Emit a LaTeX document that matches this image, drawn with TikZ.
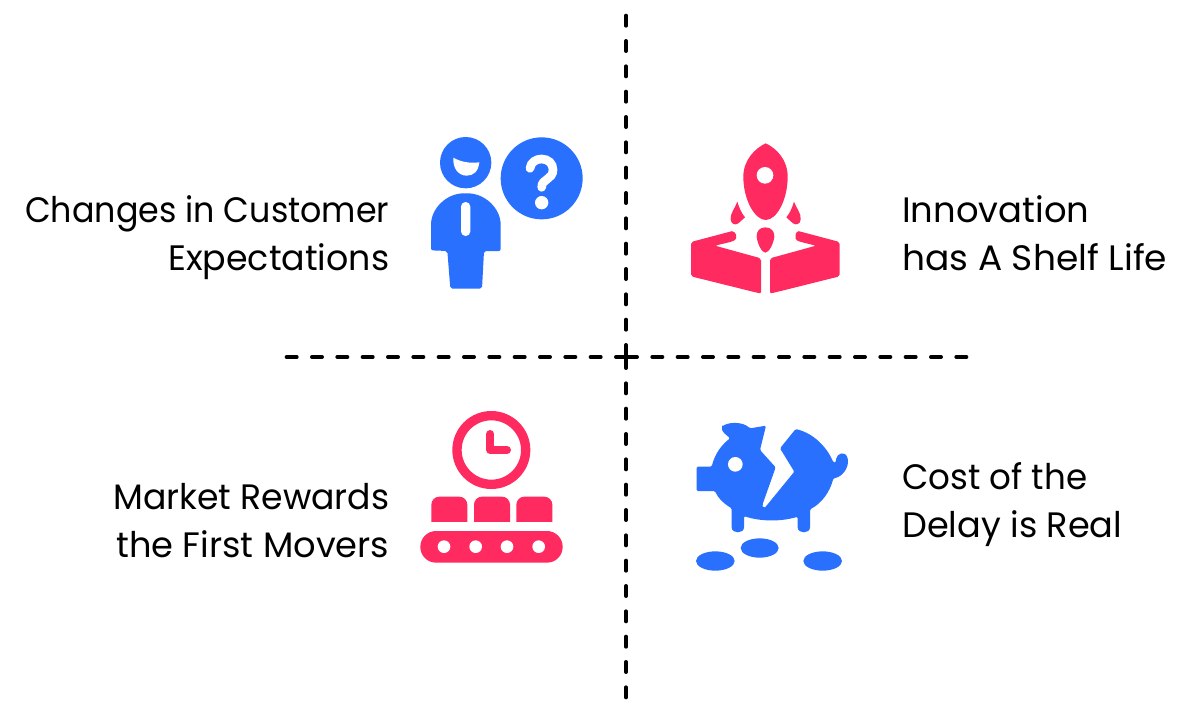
\documentclass[tikz,border=0pt]{standalone}
\usepackage{fontspec}
\usepackage{graphicx}
\setmainfont{Poppins}
\definecolor{iblue}{HTML}{2970FF}
\definecolor{ipink}{HTML}{FF2A5F}
\newcommand{\fitline}[2]{\rule[-9pt]{0pt}{36pt}\resizebox{#1}{\height}{#2}}
\tikzset{
  axis/.style={line width=3pt,line cap=round,black,dash pattern=on 7.5pt off 11.5pt},
  lab/.style={font=\fontsize{26.5pt}{36pt}\selectfont,inner sep=0pt,text=black},
  icon/.style={x=0.25pt,y=-0.25pt},
  rj/.style={rounded corners=1.5pt}
}
\begin{document}
\begin{tikzpicture}[x=0.75pt,y=-0.75pt]
\useasboundingbox (0,0) rectangle (1200,715);
\fill[white] (0,0) rectangle (1200,715);
\coordinate (cv1) at (626,355);
\coordinate (cv2) at (626,358);
\coordinate (ch1) at (626,357);
\coordinate (ch2) at (627,357);
\coordinate (top) at (626,14);
\coordinate (bot) at (626,699);
\coordinate (lft) at (284,357);
\coordinate (rgt) at (970,357);
\draw[axis] (cv1) -- (top);
\draw[axis] (cv2) -- (bot);
\draw[axis] (ch1) -- (lft);
\draw[axis] (ch2) -- (rgt);
\node[lab,align=right,anchor=east] (a) at (389.5,234.5) {\fitline{273pt}{Changes in Customer}\\\fitline{165.75pt}{Expectations}};
\node[lab,align=left,anchor=west] (b) at (902,234.5) {\fitline{140.25pt}{Innovation}\\\fitline{198.75pt}{has A Shelf Life}};
\node[lab,align=right,anchor=east] (c) at (389.5,521.5) {\fitline{207pt}{Market Rewards}\\\fitline{204.75pt}{the First Movers}};
\node[lab,align=left,anchor=west] (d) at (902,501) {\fitline{138.75pt}{Cost of the}\\\fitline{165pt}{Delay is Real}};
% person
\begin{scope}[shift={(420,125)},icon]
\fill[iblue] (137,113) circle (77);
\fill[white] (100,98) .. controls (125,112) and (150,115) .. (178,112) .. controls (175,140) and (160,152) .. (140,152) .. controls (115,152) and (98,130) .. (100,98) -- cycle;
\fill[iblue,rj] (33,376) -- (33,305) .. controls (33,250) and (80,205) .. (137,205) .. controls (195,205) and (242,250) .. (242,305) -- (242,378) -- (192,378) -- (186,491) -- (91,491) -- (82,378) -- cycle;
\fill[white,rounded corners=3.4pt] (123,231) rectangle (151,333);
\fill[iblue] (365,160) circle (123);
\draw[white,line width=6.5pt,line cap=round] (330,130) .. controls (332,112) and (348,102) .. (365,102) .. controls (385,102) and (399,116) .. (399,134) .. controls (399,165) and (365,160) .. (365,187);
\fill[white] (365,233) circle (20);
\end{scope}
% rocket
\begin{scope}[shift={(680,130)},icon]
\fill[ipink] (257,40) .. controls (225,55) and (190,90) .. (190,140) .. controls (190,210) and (225,270) .. (257,270) .. controls (290,270) and (323,210) .. (323,140) .. controls (323,90) and (290,55) .. (257,40) -- cycle;
\fill[white] (255,136) circle (25);
\fill[ipink] (172,215) .. controls (165,235) and (150,250) .. (152,268) .. controls (153,282) and (165,287) .. (175,280) -- (195,262) .. controls (185,250) and (178,235) .. (172,215) -- cycle;
\fill[ipink] (342,215) .. controls (349,235) and (364,250) .. (362,268) .. controls (361,282) and (349,287) .. (339,280) -- (319,262) .. controls (329,250) and (336,235) .. (342,215) -- cycle;
\fill[ipink] (256,292) .. controls (238,292) and (229,305) .. (230,320) .. controls (232,340) and (245,368) .. (256,368) .. controls (267,368) and (281,340) .. (283,320) .. controls (284,305) and (274,292) .. (256,292) -- cycle;
\fill[ipink,rj] (33,336) -- (150,305) .. controls (162,302) and (168,312) .. (168,320) .. controls (168,327) and (162,332) .. (155,335) -- (105,347) -- (243,385) -- (243,491) -- (33,439) -- cycle;
\fill[ipink,rj] (479,336) -- (362,305) .. controls (350,302) and (347,312) .. (347,320) .. controls (347,327) and (352,332) .. (359,335) -- (408,347) -- (270,385) -- (270,491) -- (479,439) -- cycle;
\end{scope}
% clock and belt
\begin{scope}[shift={(410,400)},icon]
\draw[ipink,line width=7pt] (244,150) circle (103);
\draw[ipink,line width=6pt,line cap=round,line join=round] (241,102) -- (241,150) -- (291,150);
\fill[ipink,rounded corners=6pt] (64,400) -- (64,290) -- (172,290) -- (172,400) -- cycle;
\fill[ipink,rounded corners=6pt] (192,400) -- (192,290) -- (300,290) -- (300,400) -- cycle;
\fill[ipink,rounded corners=6pt] (319,400) -- (319,290) -- (427,290) -- (427,400) -- cycle;
\fill[white] (50,365) rectangle (440,393);
\fill[ipink,rounded corners=11.8pt] (31,393) rectangle (458,488);
\fill[white] (102,440) circle (19) (197,440) circle (19) (291,440) circle (19) (386,440) circle (19);
\end{scope}
% piggy
\begin{scope}[shift={(685,410)},icon]
\fill[iblue,rounded corners=1pt] (112,50) .. controls (125,38) and (170,32) .. (195,55) -- (243,47) -- (225,120) -- (272,172) -- (232,285) .. controls (234,292) and (240,292) .. (243,289) -- (328,185) -- (285,115) -- (332,57) .. controls (385,70) and (425,110) .. (445,157) .. controls (450,158) and (452,155) .. (453,150) .. controls (456,130) and (480,122) .. (488,145) .. controls (492,170) and (475,200) .. (445,205) .. controls (435,245) and (410,280) .. (375,298) -- (375,348) .. controls (375,372) and (338,372) .. (338,348) -- (338,320) .. controls (290,335) and (225,335) .. (177,318) -- (177,348) .. controls (177,372) and (140,372) .. (140,348) -- (140,295) .. controls (115,280) and (98,262) .. (90,243) -- (35,243) -- (35,170) -- (80,170) .. controls (90,130) and (110,105) .. (135,85) .. controls (125,75) and (108,65) .. (112,50) -- cycle;
\fill[white] (151,163) circle (22);
\fill[iblue] (91,453) ellipse [x radius=58,y radius=29];
\fill[iblue] (224,414) ellipse [x radius=57,y radius=29];
\fill[iblue] (413,453) ellipse [x radius=58,y radius=29];
\end{scope}
\end{tikzpicture}
\end{document}
